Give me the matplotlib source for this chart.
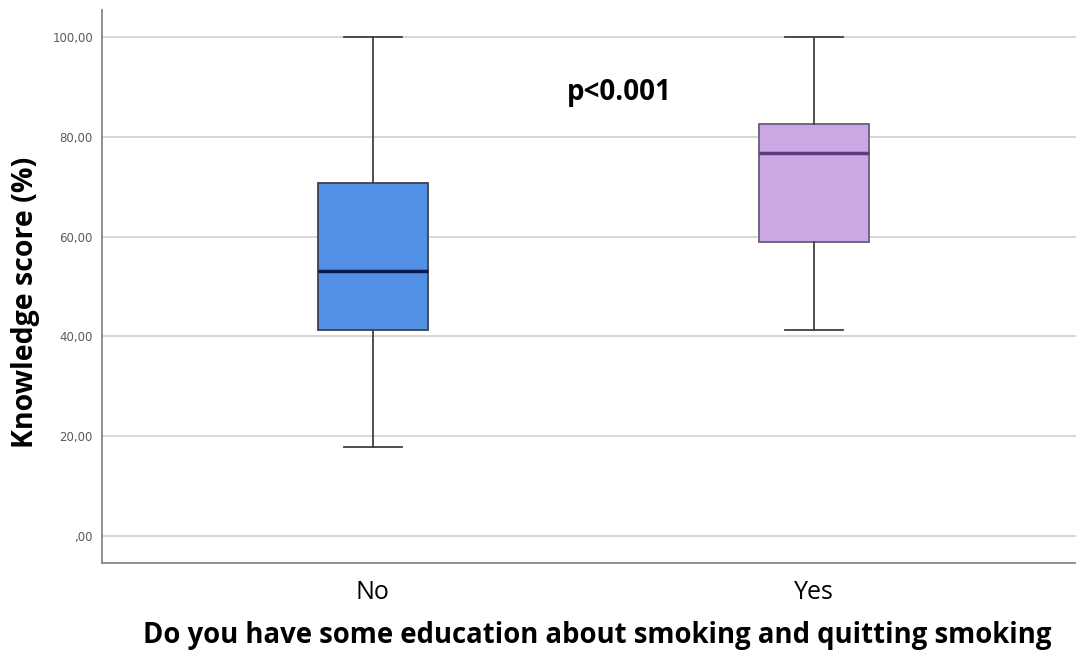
import matplotlib
matplotlib.use('Agg')
import matplotlib.pyplot as plt
from matplotlib.ticker import FuncFormatter

# Datos
grupos = ['No', 'Yes']
minimos = [17.8, 41.3]
q1 = [41.3, 58.9]
medianas = [53.1, 76.8]
q3 = [70.7, 82.6]
maximos = [100.0, 100.0]
yticks = [0, 20, 40, 60, 80, 100]

colores = ['#5190E4', '#CBA7E3']
col_mediana = ['#0B1850', '#5B3C7C']
col_borde = ['#3A4250', '#6B5A7A']

stats = []
for i in range(len(grupos)):
    stats.append({'label': grupos[i], 'whislo': minimos[i], 'q1': q1[i],
                  'med': medianas[i], 'q3': q3[i], 'whishi': maximos[i],
                  'fliers': []})

fig = plt.figure(figsize=(10.76, 6.52), dpi=100)
ax = fig.add_axes([0.0948, 0.1365, 0.9052, 0.848])

# Lineas de referencia
for t in yticks:
    ax.axhline(t, color='#D0D0D0', lw=1.2, zorder=0)

bp = ax.bxp(stats, positions=[1, 2], widths=0.25, patch_artist=True,
            showfliers=False, capwidths=0.13)
for i, caja in enumerate(bp['boxes']):
    caja.set_facecolor(colores[i])
    caja.set_edgecolor(col_borde[i])
    caja.set_linewidth(1.3)
for i, med in enumerate(bp['medians']):
    med.set_color(col_mediana[i])
    med.set_linewidth(2.5)
for w in bp['whiskers']:
    w.set_color('#404040')
    w.set_linewidth(1.3)
for c in bp['caps']:
    c.set_color('#404040')
    c.set_linewidth(1.3)

ax.set_xlim(0.386, 2.594)
ax.set_ylim(-5.4, 105.4)
ax.set_yticks(yticks)
ax.yaxis.set_major_formatter(FuncFormatter(
    lambda v, p: ',00' if v == 0 else ('%d,00' % v)))
ax.tick_params(axis='y', length=0, labelsize=8.5, labelcolor='#5A5A5A', pad=6.5)
ax.tick_params(axis='x', length=0, labelsize=18, pad=12)
for lab in ax.get_xticklabels():
    lab.set_family('Open Sans')

for s in ['top', 'right']:
    ax.spines[s].set_visible(False)
ax.spines['left'].set_color('#888888')
ax.spines['bottom'].set_color('#888888')
ax.spines['left'].set_linewidth(1.3)
ax.spines['bottom'].set_linewidth(1.3)

ax.set_ylabel('Knowledge score (%)', fontsize=20.5, fontweight='bold',
              family='Open Sans')
ax.yaxis.set_label_coords(-0.064, 0.472)
ax.set_xlabel('Do you have some education about smoking and quitting smoking',
              fontsize=19.8, fontweight='bold', family='Open Sans')
ax.xaxis.set_label_coords(0.508, -0.104)

ax.text(1.44, 88.8, 'p<0.001', fontsize=20, fontweight='bold',
        family='Open Sans', ha='left', va='center')

plt.savefig('out.png', dpi=100)
